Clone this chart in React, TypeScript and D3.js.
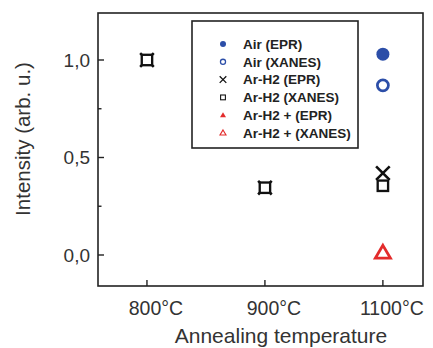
import React from "react";
import * as d3 from "d3";

const categories = ["800°C", "900°C", "1100°C"];
const yTickValues = [0, 0.5, 1.0];
const yTickLabels = ["0,0", "0,5", "1,0"];
const yMinorTicks = [0.25, 0.75];

// [categoryIndex, value]
const airEPR: [number, number][] = [[2, 1.03]];
const airXANES: [number, number][] = [[2, 0.87]];
const arH2EPR: [number, number][] = [[0, 1.0], [1, 0.345], [2, 0.42]];
const arH2XANES: [number, number][] = [[0, 1.0], [1, 0.345], [2, 0.355]];
const arH2plusEPR: [number, number][] = [];
const arH2plusXANES: [number, number][] = [[2, 0.01]];

const legendLabels = [
  "Air (EPR)",
  "Air (XANES)",
  "Ar-H2 (EPR)",
  "Ar-H2 (XANES)",
  "Ar-H2 + (EPR)",
  "Ar-H2 + (XANES)",
];

const BLUE = "#2c4ea8";
const RED = "#e32b2b";
const BLACK = "#111";

type Kind = "fcircle" | "ocircle" | "cross" | "square" | "ftri" | "otri";

function Marker({ kind, x, y, s }: { kind: Kind; x: number; y: number; s: number }) {
  switch (kind) {
    case "fcircle":
      return <circle cx={x} cy={y} r={s} fill={BLUE} />;
    case "ocircle":
      return <circle cx={x} cy={y} r={s * 0.85} fill="none" stroke={BLUE} strokeWidth={s * 0.42} />;
    case "cross":
      return (
        <path
          d={`M${x - s},${y - s}L${x + s},${y + s}M${x - s},${y + s}L${x + s},${y - s}`}
          stroke={BLACK}
          strokeWidth={s * 0.38}
          fill="none"
        />
      );
    case "square":
      return (
        <rect
          x={x - s * 0.8}
          y={y - s * 0.8}
          width={s * 1.6}
          height={s * 1.6}
          fill="#fff"
          stroke={BLACK}
          strokeWidth={s * 0.36}
        />
      );
    case "ftri":
    case "otri": {
      const h = s * 1.7;
      const w = s * 1.0;
      const d = `M${x},${y - h * 0.6}L${x + w},${y + h * 0.4}L${x - w},${y + h * 0.4}Z`;
      return kind === "ftri" ? (
        <path d={d} fill={RED} />
      ) : (
        <path d={d} fill="none" stroke={RED} strokeWidth={s * 0.38} strokeLinejoin="miter" />
      );
    }
  }
}

export default function App() {
  const W = 433;
  const H = 348;
  const left = 98;
  const right = 423;
  const top = 13;
  const bottom = 286;

  const x = d3.scaleLinear().domain([-0.415, 2.34]).range([left, right]);
  const y = d3.scaleLinear().domain([-0.159, 1.241]).range([bottom, top]);

  const series: { kind: Kind; data: [number, number][]; s: number }[] = [
    { kind: "fcircle", data: airEPR, s: 6.5 },
    { kind: "ocircle", data: airXANES, s: 6.5 },
    { kind: "cross", data: arH2EPR, s: 6.8 },
    { kind: "square", data: arH2XANES, s: 6.5 },
    { kind: "ftri", data: arH2plusEPR, s: 7 },
    { kind: "otri", data: arH2plusXANES, s: 7.5 },
  ];

  const legendKinds: Kind[] = ["fcircle", "ocircle", "cross", "square", "ftri", "otri"];

  return (
    <svg
      width={W}
      height={H}
      style={{ position: "absolute", left: 0, top: 0, background: "#fff" }}
      fontFamily="Liberation Sans, Arial, sans-serif"
    >
      {/* frame */}
      <rect x={left} y={top} width={right - left} height={bottom - top} fill="none" stroke="#222" strokeWidth={1.6} />

      {/* y ticks */}
      {yTickValues.map((v, i) => (
        <g key={"yt" + i}>
          <line x1={left} x2={left + 6} y1={y(v)} y2={y(v)} stroke="#222" strokeWidth={1.4} />
          <text x={90} y={y(v)} dy="0.36em" textAnchor="end" fontSize={19} fill="#333">
            {yTickLabels[i]}
          </text>
        </g>
      ))}
      {yMinorTicks.map((v, i) => (
        <line key={"ym" + i} x1={left} x2={left + 3.5} y1={y(v)} y2={y(v)} stroke="#222" strokeWidth={1.4} />
      ))}

      {/* x ticks */}
      {categories.map((c, i) => (
        <g key={"xt" + i}>
          <line x1={x(i)} x2={x(i)} y1={bottom} y2={bottom - 6} stroke="#222" strokeWidth={1.4} />
          <text x={x(i) + 9} y={315} textAnchor="middle" fontSize={19.5} fill="#333">
            {c}
          </text>
        </g>
      ))}

      {/* axis titles */}
      <text x={281} y={343} textAnchor="middle" fontSize={21} fill="#333">
        Annealing temperature
      </text>
      <text
        transform={`translate(30,${139}) rotate(-90)`}
        textAnchor="middle"
        fontSize={20.5}
        fill="#333"
      >
        Intensity (arb. u.)
      </text>

      {/* data */}
      {series.map((s, si) =>
        s.data.map(([ci, v], di) => (
          <Marker key={si + "-" + di} kind={s.kind} x={x(ci)} y={y(v)} s={s.s} />
        ))
      )}

      {/* legend */}
      <rect x={192} y={21} width={166} height={127} fill="#fff" stroke="#222" strokeWidth={1.6} />
      {legendLabels.map((l, i) => {
        const ly = 44 + i * 17.8;
        return (
          <g key={"lg" + i}>
            <Marker kind={legendKinds[i]} x={223} y={ly} s={legendKinds[i] === "cross" ? 3.3 : 3} />
            <text x={243} y={ly} dy="0.36em" fontSize={13.5} fontWeight="bold" fill="#222">
              {l}
            </text>
          </g>
        );
      })}
    </svg>
  );
}
